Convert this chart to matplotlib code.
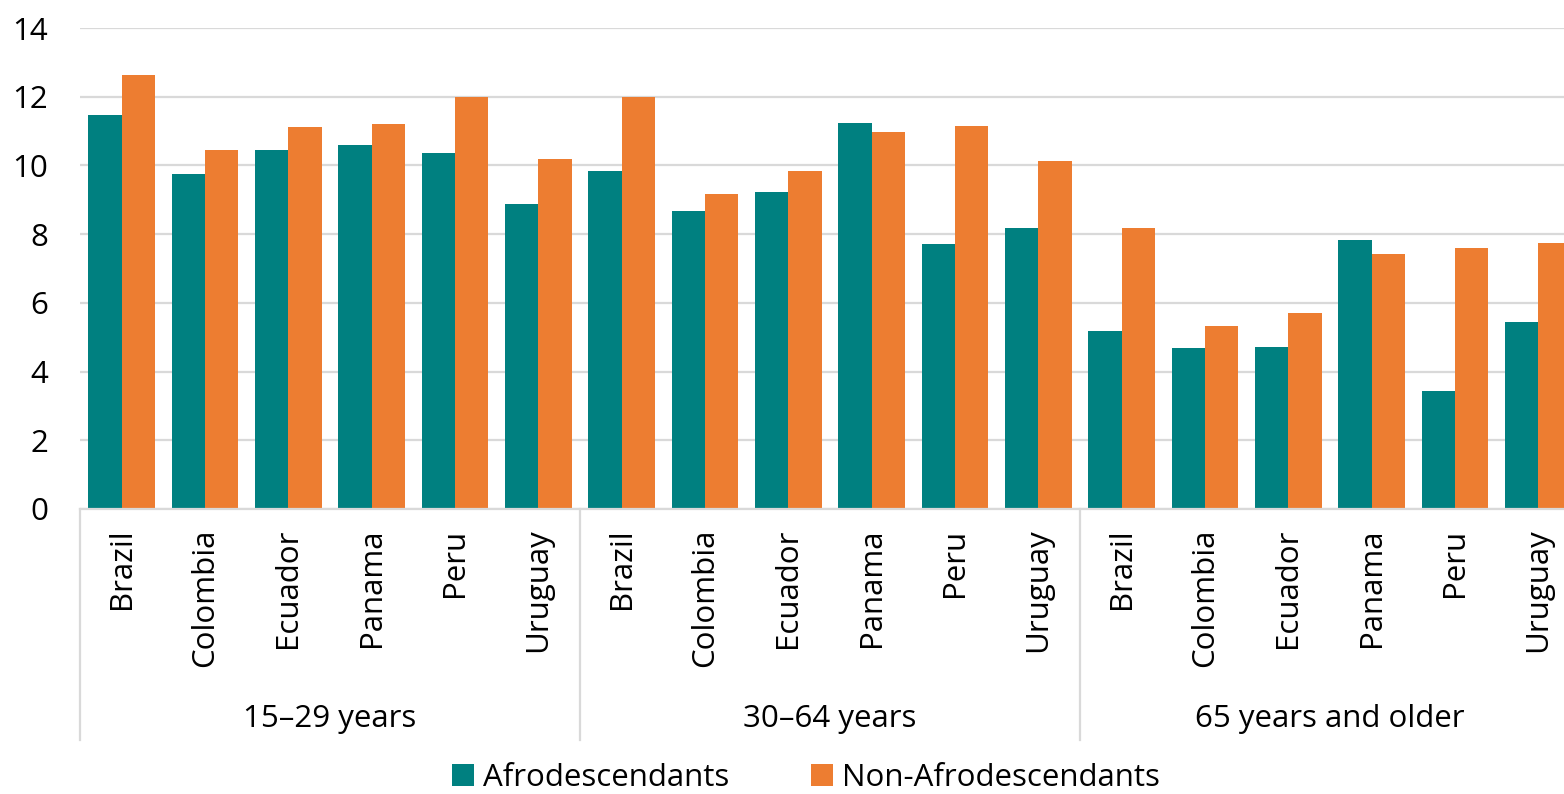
import numpy as np
import matplotlib
matplotlib.use("Agg")
import matplotlib.pyplot as plt
import matplotlib.transforms as mtransforms

plt.rcParams['font.family'] = ['Open Sans', 'DejaVu Sans']

countries = ["Brazil", "Colombia", "Ecuador", "Panama", "Peru", "Uruguay"]
age_groups = ["15\u201329 years", "30\u201364 years", "65 years and older"]
# values per age group, countries in the order above
afro = [
    [11.48, 9.74, 10.44, 10.59, 10.37, 8.89],
    [9.83, 8.68, 9.24, 11.24, 7.72, 8.17],
    [5.17, 4.68, 4.72, 7.84, 3.42, 5.43],
]
non_afro = [
    [12.62, 10.44, 11.11, 11.22, 12.00, 10.18],
    [11.99, 9.17, 9.83, 10.98, 11.14, 10.13],
    [8.17, 5.34, 5.70, 7.43, 7.59, 7.73],
]
series_names = ["Afrodescendants", "Non-Afrodescendants"]
teal = "#008080"
orange = "#ED7D31"
grid_col = "#D9D9D9"

W, H = 1564, 794
fs = 22.5
fig = plt.figure(figsize=(W / 100, H / 100), dpi=100)
ax = fig.add_axes([80 / W, 1 - 509 / H, 1500 / W, 481 / H])

n = len(countries)
x = np.arange(n * len(age_groups))
a_vals = np.concatenate(afro)
na_vals = np.concatenate(non_afro)
bw = 0.4
b1 = ax.bar(x - bw / 2, a_vals, bw, color=teal, label=series_names[0], zorder=2)
b2 = ax.bar(x + bw / 2, na_vals, bw, color=orange, label=series_names[1], zorder=2)

ax.set_xlim(-0.5, len(x) - 0.5)
ax.set_ylim(0, 14)
ax.set_yticks(range(0, 15, 2))
ax.yaxis.grid(True, color=grid_col, lw=1.6, zorder=0)
ax.set_axisbelow(True)
for s in ["top", "right", "left"]:
    ax.spines[s].set_visible(False)
ax.spines["bottom"].set_color(grid_col)
ax.spines["bottom"].set_linewidth(1.6)

ax.set_xticks(x)
ax.set_xticklabels(countries * len(age_groups), rotation=90, fontsize=fs)
ax.tick_params(axis="x", length=0, pad=14)
ax.tick_params(axis="y", length=0, pad=23, labelsize=fs)

# group separators and group labels below the axis
trans = mtransforms.blended_transform_factory(ax.transData, ax.transAxes)
sep_bottom = -(740 - 509) / 481
for g in range(len(age_groups) + 1):
    xs = g * n - 0.5
    ax.plot([xs, xs], [0, sep_bottom], color=grid_col, lw=1.6,
            transform=trans, clip_on=False)
for g, name in enumerate(age_groups):
    ax.text(g * n + (n - 1) / 2, -(719 - 509) / 481, name, transform=trans,
            ha="center", va="center", fontsize=fs)

fig.legend(handles=[b1, b2], labels=series_names, loc="center",
           bbox_to_anchor=(806 / W, 1 - 778 / H), ncol=2, frameon=False,
           fontsize=fs, handlelength=0.7, handleheight=0.7,
           handletextpad=0.3, columnspacing=2.6)

fig.savefig("out.png", dpi=100)
